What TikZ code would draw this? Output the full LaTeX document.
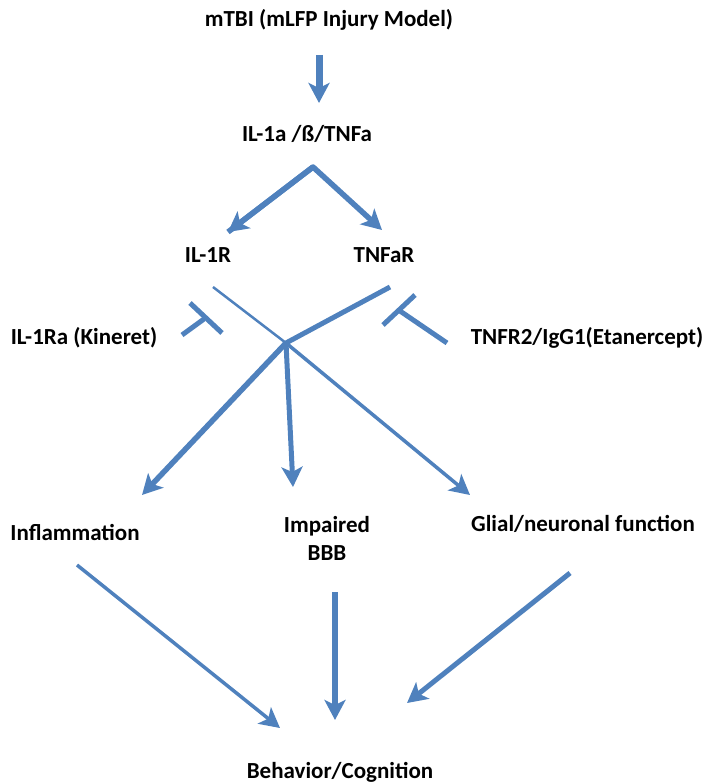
\documentclass[tikz,border=0pt]{standalone}
\usepackage{fontspec}
\setmainfont{Carlito}
\usepackage{tikz}
\usetikzlibrary{arrows.meta}
\definecolor{officeblue}{HTML}{4F81BD}
\tikzstyle{arrow} = [draw=officeblue,-{Stealth[length=20pt,width=21pt,inset=5pt]}]
\tikzstyle{link}  = [draw=officeblue]
\tikzset{every node/.style={align=center,font=\fontsize{23}{28}\selectfont\bfseries}}

\begin{document}
\begin{tikzpicture}[x=1pt, y=-1pt]
  \useasboundingbox (0,0) rectangle (709,783);
  % Labels
  \node (mtbi) at (329,20) {mTBI (mLFP Injury Model)};
  \node (cyto) at (307,134) {IL-1a /ß/TNFa};
  \node (ilr) at (208,255) {IL-1R};
  \node (tnfr) at (384,255) {TNFaR};
  \node (kineret) at (84,338) {IL-1Ra (Kineret)};
  \node (etan) at (587,338) {TNFR2/IgG1(Etanercept)};
  \node (infl) at (75,532) {Inflammation};
  \node (bbb) at (327,538) {Impaired\\BBB};
  \node (glial) at (583,524) {Glial/neuronal function};
  \node (behav) at (340,772) {Behavior/Cognition};
  % Ends of the connectors
  \coordinate (mtbiS) at (319,55);   \coordinate (cytoE) at (319,103);
  \coordinate (apex) at (313,167);
  \coordinate (ilrE) at (228,232);   \coordinate (tnfrE) at (382,230);
  \coordinate (ilrS) at (213,287);   \coordinate (tnfrS) at (390,287);
  \coordinate (hub) at (286,343);
  \coordinate (inflE) at (142,495);  \coordinate (bbbE) at (293,487);
  \coordinate (glialE) at (470,495);
  \coordinate (inflS) at (77,565);   \coordinate (bbbS) at (335,592);
  \coordinate (glialS) at (570,573);
  \coordinate (behavA) at (280,728); \coordinate (behavB) at (335,720);
  \coordinate (behavC) at (407,703);
  % Injury -> cytokines -> receptors
  \draw[arrow, line width=7pt] (mtbiS) -- (cytoE);
  \draw[arrow, line width=5.5pt, line join=round] (ilrE) -- (apex) -- (tnfrE);
  \draw[arrow, line width=5.5pt, {Stealth[length=20pt,width=21pt,inset=5pt]}-] (ilrE) -- (apex);
  % Receptors meet
  \draw[link, line width=2.5pt] (ilrS) -- (hub);
  \draw[link, line width=5pt] (tnfrS) -- (hub);
  % Blockers
  \coordinate (kinS) at (182,335);   \coordinate (kinT) at (204,319);
  \coordinate (kinA) at (190,303);   \coordinate (kinB) at (222,333);
  \draw[link, line width=5pt] (kinS) -- (kinT);
  \draw[link, line width=5pt] (kinA) -- (kinB);
  \coordinate (etanS) at (447,343);  \coordinate (etanT) at (400,311);
  \coordinate (etanA) at (415,295);  \coordinate (etanB) at (383,325);
  \draw[link, line width=5pt] (etanS) -- (etanT);
  \draw[link, line width=5pt] (etanA) -- (etanB);
  % Effects
  \draw[arrow, line width=5.5pt] (hub) -- (inflE);
  \draw[arrow, line width=5pt] (hub) -- (bbbE);
  \draw[arrow, line width=3.5pt] (hub) -- (glialE);
  % Outcome
  \draw[arrow, line width=3.5pt] (inflS) -- (behavA);
  \draw[arrow, line width=5.5pt] (bbbS) -- (behavB);
  \draw[arrow, line width=5pt] (glialS) -- (behavC);
\end{tikzpicture}
\end{document}
